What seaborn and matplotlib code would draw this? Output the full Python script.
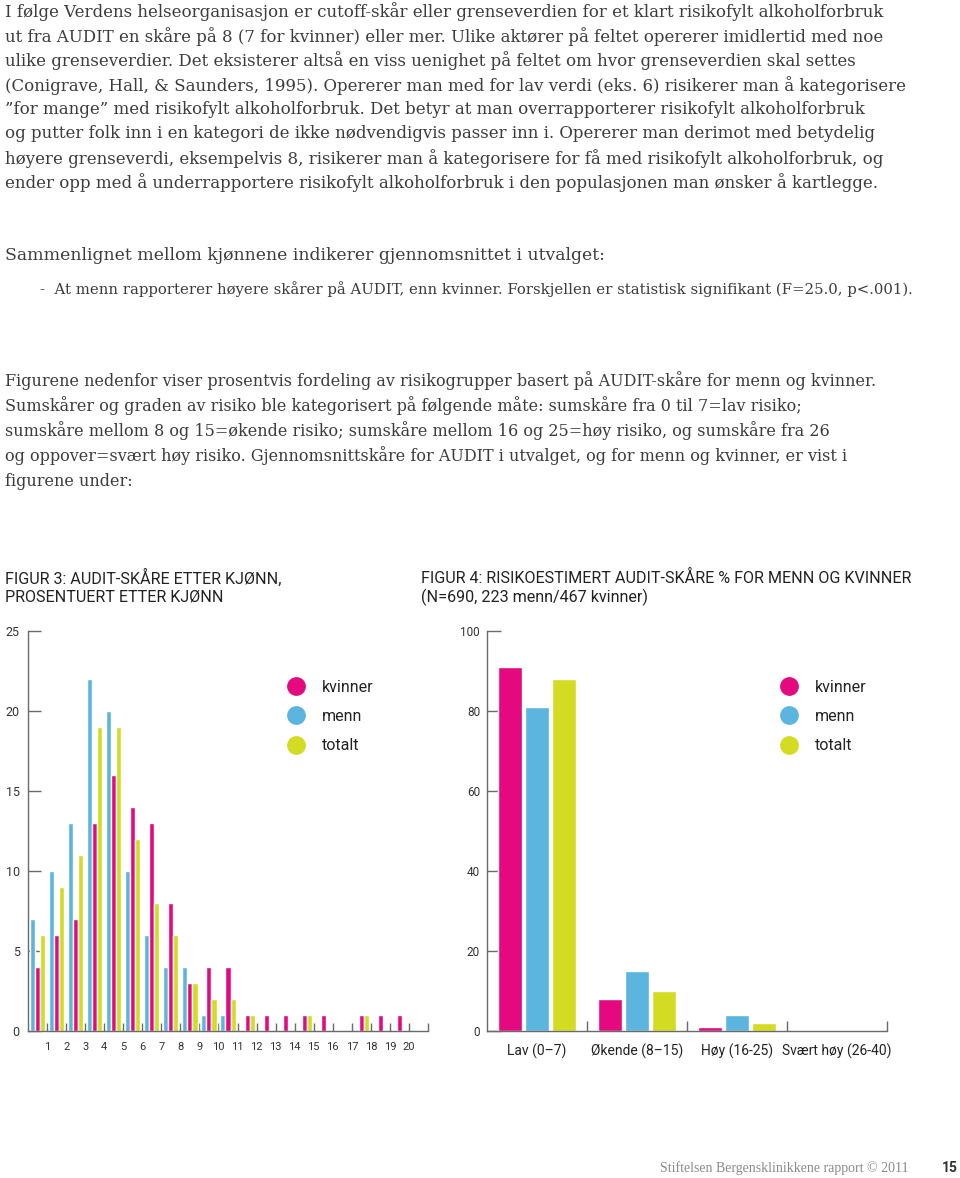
import matplotlib
matplotlib.use("Agg")
import matplotlib.pyplot as plt
from matplotlib.lines import Line2D
import seaborn as sns
import pandas as pd

# ---------------- data ----------------
scores = [str(i) for i in range(21)]
menn_fig3 = [7, 10, 13, 22, 20, 10, 6, 4, 4, 1, 1, 0, 0, 0, 0, 0, 0, 0, 0, 0, 0]
kvinner_fig3 = [4, 6, 7, 13, 16, 14, 13, 8, 3, 4, 4, 1, 1, 1, 1, 1, 0, 1, 1, 1, 0]
totalt_fig3 = [6, 9, 11, 19, 19, 12, 8, 6, 3, 2, 2, 1, 0, 0, 1, 0, 0, 1, 0, 0, 0]
fig3_ticklabels = [str(i) for i in range(1, 21)]
fig3_yticks = [0, 5, 10, 15, 20, 25]

risk_groups = ["Lav (0–7)", "Økende (8–15)", "Høy (16-25)", "Svært høy (26-40)"]
kvinner_fig4 = [91, 8, 1, 0]
menn_fig4 = [81, 15, 4, 0]
totalt_fig4 = [88, 10, 2, 0]
fig4_yticks = [0, 20, 40, 60, 80, 100]

series_names = ["kvinner", "menn", "totalt"]
colors = {"kvinner": "#E5097F", "menn": "#5BB5DE", "totalt": "#D3DC22"}

df3 = pd.DataFrame({
    "score": scores * 3,
    "pct": menn_fig3 + kvinner_fig3 + totalt_fig3,
    "gruppe": ["menn"] * 21 + ["kvinner"] * 21 + ["totalt"] * 21,
})
df4 = pd.DataFrame({
    "risiko": risk_groups * 3,
    "pct": kvinner_fig4 + menn_fig4 + totalt_fig4,
    "gruppe": ["kvinner"] * 4 + ["menn"] * 4 + ["totalt"] * 4,
})

# ---------------- figure ----------------
sns.set_theme(style="white")
plt.rcParams["font.family"] = ["Roboto", "DejaVu Sans"]

W, H = 960, 1178
fig = plt.figure(figsize=(W / 100, H / 100), dpi=100)
fig.patch.set_facecolor("white")


def T(x, y, s, **kw):
    fig.text(x / W, 1 - y / H, s, **kw)


body = dict(family=["DejaVu Serif"], color="#3c3c3c", va="center", ha="left")
para1 = [
    "I følge Verdens helseorganisasjon er cutoff-skår eller grenseverdien for et klart risikofylt alkoholforbruk",
    "ut fra AUDIT en skåre på 8 (7 for kvinner) eller mer. Ulike aktører på feltet opererer imidlertid med noe",
    "ulike grenseverdier. Det eksisterer altså en viss uenighet på feltet om hvor grenseverdien skal settes",
    "(Conigrave, Hall, & Saunders, 1995). Opererer man med for lav verdi (eks. 6) risikerer man å kategorisere",
    "”for mange” med risikofylt alkoholforbruk. Det betyr at man overrapporterer risikofylt alkoholforbruk",
    "og putter folk inn i en kategori de ikke nødvendigvis passer inn i. Opererer man derimot med betydelig",
    "høyere grenseverdi, eksempelvis 8, risikerer man å kategorisere for få med risikofylt alkoholforbruk, og",
    "ender opp med å underrapportere risikofylt alkoholforbruk i den populasjonen man ønsker å kartlegge.",
]
for i, line in enumerate(para1):
    T(5, 12 + i * 24.4, line, fontsize=12.0, **body)

T(5, 255, "Sammenlignet mellom kjønnene indikerer gjennomsnittet i utvalget:", fontsize=12.4, **body)
T(40, 289, "-  At menn rapporterer høyere skårer på AUDIT, enn kvinner. Forskjellen er statistisk signifikant (F=25.0, p<.001).",
  fontsize=10.75, **body)

para3 = [
    "Figurene nedenfor viser prosentvis fordeling av risikogrupper basert på AUDIT-skåre for menn og kvinner.",
    "Sumskårer og graden av risiko ble kategorisert på følgende måte: sumskåre fra 0 til 7=lav risiko;",
    "sumskåre mellom 8 og 15=økende risiko; sumskåre mellom 16 og 25=høy risiko, og sumskåre fra 26",
    "og oppover=svært høy risiko. Gjennomsnittskåre for AUDIT i utvalget, og for menn og kvinner, er vist i",
    "figurene under:",
]
for i, line in enumerate(para3):
    T(5, 381 + i * 25, line, fontsize=11.5, **body)

cap = dict(color="#222222", va="center", ha="left", fontsize=11.6)
T(5, 578, "FIGUR 3: AUDIT-SKÅRE ETTER KJØNN,", **cap)
T(5, 597, "PROSENTUERT ETTER KJØNN", **cap)
T(421, 578, "FIGUR 4: RISIKOESTIMERT AUDIT-SKÅRE % FOR MENN OG KVINNER", **cap)
T(421, 597, "(N=690, 223 menn/467 kvinner)", **cap)

T(908, 1168, "Stiftelsen Bergensklinikkene rapport © 2011", family=["Liberation Serif", "DejaVu Serif"],
  color="#8a8a8a", fontsize=10, ha="right", va="center")
T(958, 1168, "15", color="#333333", fontsize=10, fontweight="bold", ha="right", va="center")

spine_col = "#6a6a6a"


def axes_px(x0, y0, x1, y1):
    return fig.add_axes([x0 / W, 1 - y1 / H, (x1 - x0) / W, (y1 - y0) / H])


# ---------------- Figure 3 ----------------
ax1 = axes_px(28, 631, 428, 1031)
sns.barplot(data=df3, x="score", y="pct", hue="gruppe", hue_order=["menn", "kvinner", "totalt"],
            palette=colors, width=0.8, gap=0.0, dodge=True, legend=False, ax=ax1,
            saturation=1, errorbar=None)
ax1.set_xlim(-0.5, 20.5)
ax1.set_ylim(0, 25)
ax1.set_xticks([k + 0.5 for k in range(21)])
ax1.set_xticklabels(fig3_ticklabels + [""])
ax1.set_yticks(fig3_yticks)
ax1.set_yticklabels([str(v) for v in fig3_yticks])
ax1.tick_params(axis="x", direction="in", length=6, width=1, color=spine_col,
                labelsize=8, pad=8, labelcolor="#333333", bottom=True)
ax1.tick_params(axis="y", direction="in", length=9, width=1, color=spine_col,
                labelsize=9, pad=6, labelcolor="#333333", left=True)
for s in ["top", "right"]:
    ax1.spines[s].set_visible(False)
for s in ["left", "bottom"]:
    ax1.spines[s].set_color(spine_col)
    ax1.spines[s].set_linewidth(1)
ax1.set_xlabel("")
ax1.set_ylabel("")

# ---------------- Figure 4 ----------------
ax2 = axes_px(487, 631, 887, 1031)
sns.barplot(data=df4, x="risiko", y="pct", hue="gruppe", hue_order=series_names,
            palette=colors, width=0.8, gap=0.1, dodge=True, legend=False, ax=ax2,
            saturation=1, errorbar=None)
ax2.set_xlim(-0.5, 3.5)
ax2.set_ylim(0, 100)
ax2.set_xticks(range(4))
ax2.set_xticklabels(risk_groups)
ax2.set_xticks([k + 0.5 for k in range(4)], minor=True)
ax2.set_yticks(fig4_yticks)
ax2.set_yticklabels([str(v) for v in fig4_yticks])
ax2.tick_params(axis="x", which="major", length=0, labelsize=10, pad=9, labelcolor="#222222", bottom=True)
ax2.tick_params(axis="x", which="minor", direction="in", length=7, width=1, color=spine_col, bottom=True)
ax2.tick_params(axis="y", direction="in", length=10, width=1, color=spine_col,
                labelsize=8.5, pad=5, labelcolor="#333333", left=True)
for s in ["top", "right"]:
    ax2.spines[s].set_visible(False)
for s in ["left", "bottom"]:
    ax2.spines[s].set_color(spine_col)
    ax2.spines[s].set_linewidth(1)
ax2.set_xlabel("")
ax2.set_ylabel("")

# ---------------- legends ----------------
handles = [Line2D([0], [0], marker="o", linestyle="none", markersize=12.5,
                  markerfacecolor=colors[n], markeredgecolor=colors[n]) for n in series_names]
for ax, (lx, ly) in [(ax1, (289, 680)), (ax2, (782, 680))]:
    ax.legend(handles, series_names, loc="upper left", bbox_to_anchor=(lx / W, 1 - ly / H),
              bbox_transform=fig.transFigure, frameon=False, fontsize=11.5,
              handlelength=0.9, handletextpad=1.15, labelspacing=0.88, borderpad=0,
              borderaxespad=0, labelcolor="#222222")

fig.savefig("out.png", dpi=100, facecolor="white")
